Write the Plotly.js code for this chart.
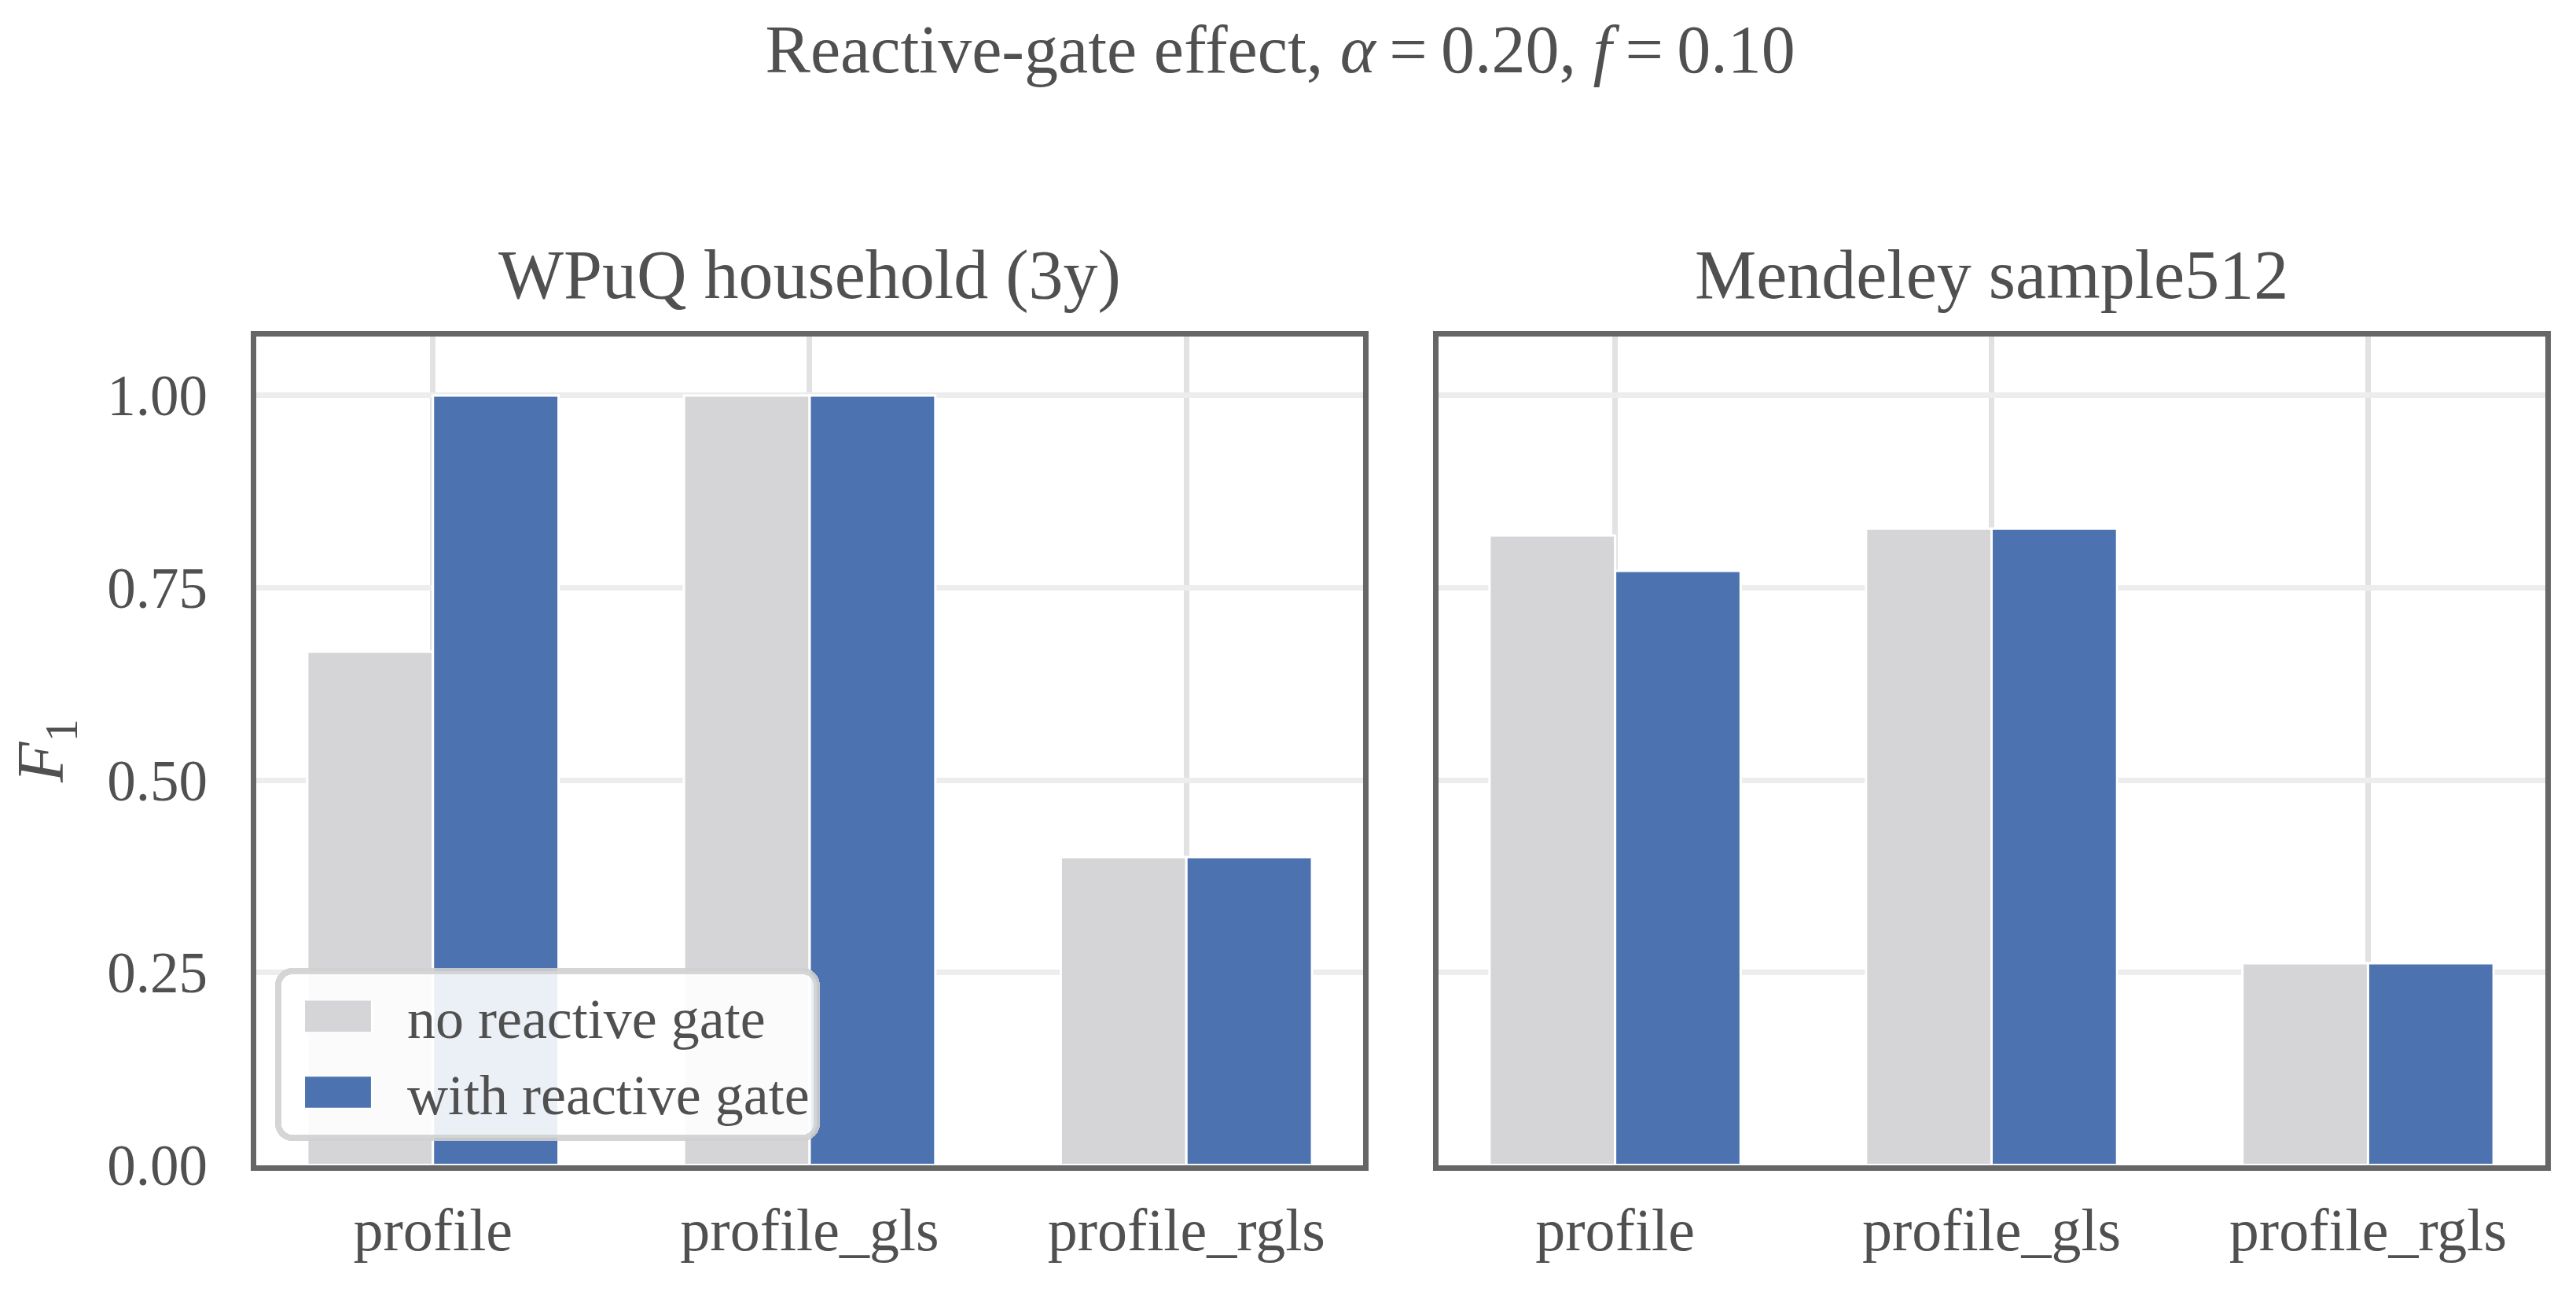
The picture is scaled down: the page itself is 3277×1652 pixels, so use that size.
<!DOCTYPE html>
<html>
<head>
<meta charset="utf-8">
<script src="https://cdn.plot.ly/plotly-3.0.1.min.js"></script>
<style>
  html, body { margin: 0; padding: 0; background: #ffffff; }
  #chart { width: 3277px; height: 1652px; }
</style>
</head>
<body>
<div id="chart"></div>
<script>
// ---- data ----
const methods = ["profile", "profile_gls", "profile_rgls"];
const wpuqNoGate = [0.667, 1.00, 0.40];
const wpuqWithGate = [1.00, 1.00, 0.40];
const mendNoGate = [0.818, 0.827, 0.262];
const mendWithGate = [0.772, 0.827, 0.262];
const seriesNames = ["no reactive gate", "with reactive gate"];
const panelTitles = ["WPuQ household (3y)", "Mendeley sample512"];
const yTickVals = [0, 0.25, 0.5, 0.75, 1.0];
const yTickText = ["0.00", "0.25", "0.50", "0.75", "1.00"];

// ---- style ----
const GRAY = "#d5d5d8";
const BLUE = "#4c72b0";
const TEXT = "#505050";
const FONT = "Liberation Serif, Times New Roman, serif";

function barTrace(name, vals, color, xa, ya, show) {
  return {
    type: "bar", name: name, x: methods, y: vals,
    xaxis: xa, yaxis: ya, showlegend: show, legendgroup: name,
    marker: { color: color, line: { color: "#ffffff", width: 3 } },
    hoverinfo: "skip"
  };
}

const traces = [
  barTrace(seriesNames[0], wpuqNoGate, GRAY, "x", "y", true),
  barTrace(seriesNames[1], wpuqWithGate, BLUE, "x", "y", true),
  barTrace(seriesNames[0], mendNoGate, GRAY, "x2", "y2", false),
  barTrace(seriesNames[1], mendWithGate, BLUE, "x2", "y2", false)
];

const xCommon = {
  type: "category", range: [-0.47, 2.47],
  showline: true, mirror: true, linecolor: "#666666", linewidth: 7,
  showgrid: true, gridcolor: "#e2e2e2", gridwidth: 7,
  ticks: "", ticklabelstandoff: 10,
  tickfont: { family: FONT, size: 76, color: TEXT },
  zeroline: false, fixedrange: true
};
const yCommon = {
  range: [0, 1.077],
  tickvals: yTickVals, ticktext: yTickText,
  showline: true, mirror: true, linecolor: "#666666", linewidth: 7,
  showgrid: true, gridcolor: "#ededed", gridwidth: 7,
  ticks: "", ticklabelstandoff: 40,
  tickfont: { family: FONT, size: 73, color: TEXT },
  zeroline: false, fixedrange: true
};

const yDom = [0.1032, 0.7412];

const layout = {
  width: 3277, height: 1652,
  margin: { l: 0, r: 0, t: 0, b: 0 },
  paper_bgcolor: "#ffffff", plot_bgcolor: "#ffffff",
  font: { family: FONT, color: TEXT },
  barmode: "group", bargap: 0.333, bargroupgap: 0,
  title: {
    text: "Reactive-gate effect, <i>α</i>\u2009=\u20090.20, <i>f</i>\u2009=\u20090.10",
    x: 0.497, xanchor: "center", xref: "paper",
    y: 0.9625, yanchor: "middle", yref: "container",
    font: { family: FONT, size: 86, color: TEXT }
  },
  xaxis: Object.assign({}, xCommon, { domain: [0.09933, 0.52929], anchor: "y" }),
  yaxis: Object.assign({}, yCommon, {
    domain: yDom, anchor: "x",
    title: { text: "<i>F</i><sub>1</sub>", font: { family: FONT, size: 84, color: TEXT }, standoff: 30 }
  }),
  xaxis2: Object.assign({}, xCommon, { domain: [0.55829, 0.98795], anchor: "y2" }),
  yaxis2: Object.assign({}, yCommon, { domain: yDom, anchor: "x2", showticklabels: false }),
  annotations: [
    { text: panelTitles[0], xref: "paper", yref: "paper", x: (0.09933 + 0.52929) / 2, y: 0.7885,
      xanchor: "center", yanchor: "middle", showarrow: false,
      font: { family: FONT, size: 88, color: TEXT } },
    { text: panelTitles[1], xref: "paper", yref: "paper", x: (0.55829 + 0.98795) / 2, y: 0.7885,
      xanchor: "center", yanchor: "middle", showarrow: false,
      font: { family: FONT, size: 88, color: TEXT } }
  ],
  legend: {
    x: 0.1068, y: 0.2548, xanchor: "left", yanchor: "top",
    xref: "paper", yref: "paper",
    bgcolor: "rgba(255,255,255,0.89)",
    bordercolor: "rgba(208,208,208,0.9)", borderwidth: 8,
    font: { family: FONT, size: 72, color: TEXT },
    itemwidth: 150, traceorder: "normal", tracegroupgap: 8
  },
  showlegend: true
};

Plotly.newPlot("chart", traces, layout, { staticPlot: true, displayModeBar: false }).then(function () {
  const bg = document.querySelector(".legend .bg");
  const bgLeft = bg ? bg.getBoundingClientRect().left : 350;
  if (bg) { bg.setAttribute("rx", "18"); bg.setAttribute("ry", "18"); }
  document.querySelectorAll(".legend .legendpoints path").forEach(function (p) {
    p.setAttribute("transform", "scale(7.2,3.4)");
    p.style.strokeWidth = "0.35px";
    const r = p.getBoundingClientRect();
    const cx = r.left + r.width / 2;
    const target = bgLeft + 76;
    p.setAttribute("transform", "translate(" + (target - cx) + ",0) scale(7.2,3.4)");
  });
});
</script>
</body>
</html>
